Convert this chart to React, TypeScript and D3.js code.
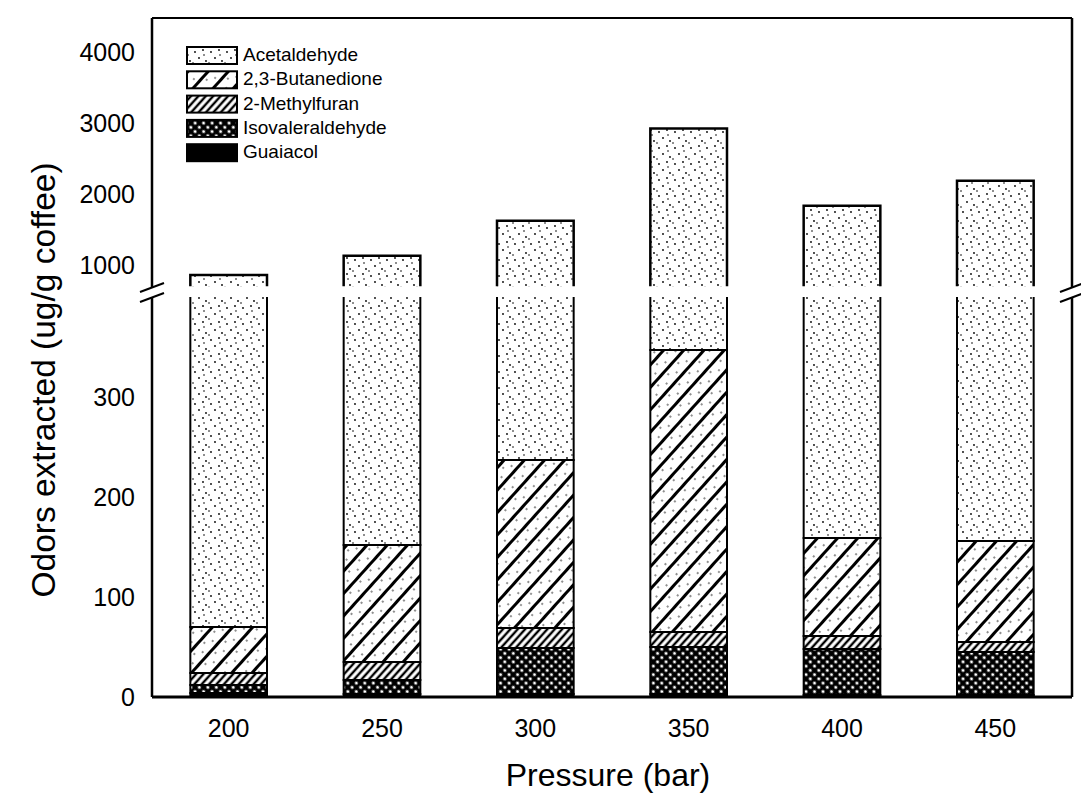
import React from "react";
import * as d3 from "d3";

const categories = ["200", "250", "300", "350", "400", "450"];
const guaiacol = [4, 3, 3, 3, 2, 2];
const isovaleraldehyde = [8, 14, 46, 47, 46, 43];
const methylfuran = [12, 18, 20, 15, 13, 10];
const butanedione = [46, 117, 168, 282, 98, 101];
const acetaldehyde = [790, 978, 1385, 2577, 1675, 2032];
const lowerTicks = [0, 100, 200, 300];
const upperTicks = [1000, 2000, 3000, 4000];
const legendNames = ["Acetaldehyde", "2,3-Butanedione", "2-Methylfuran", "Isovaleraldehyde", "Guaiacol"];

const W = 1081;
const H = 800;
const left = 152;
const right = 1072;
const top = 18;
const bottom = 697;
const lowerMax = 400;
const upperMin = 700;

const FONT = "'Liberation Sans', Arial, Helvetica, sans-serif";

export default function App() {
  const keys = ["guaiacol", "isovaleraldehyde", "methylfuran", "butanedione", "acetaldehyde"];
  const rows = categories.map((c, i) => ({
    cat: c,
    guaiacol: guaiacol[i],
    isovaleraldehyde: isovaleraldehyde[i],
    methylfuran: methylfuran[i],
    butanedione: butanedione[i],
    acetaldehyde: acetaldehyde[i],
  }));
  const stack = d3.stack<any>().keys(keys);
  const series = stack(rows);

  const x = d3.scaleBand<string>().domain(categories).range([left, right]).paddingInner(0.5).paddingOuter(0.25);
  const yLow = d3.scaleLinear().domain([0, lowerMax]).range([bottom, 297]);
  const yUp = d3.scaleLinear().domain([1000, 4000]).range([265, 52]);

  const fills: Record<string, string> = {
    acetaldehyde: "url(#pAcet)",
    butanedione: "url(#pBut)",
    methylfuran: "url(#pMeth)",
    isovaleraldehyde: "url(#pIso)",
    guaiacol: "#000",
  };

  const segs: any[] = [];
  series.forEach((s) => {
    s.forEach((d: any, i: number) => {
      const b = d[0];
      const t = d[1];
      const xx = x(categories[i])!;
      const bw = x.bandwidth();
      if (t <= lowerMax) {
        segs.push({ key: s.key + i, x: xx, w: bw, y: yLow(t), h: yLow(b) - yLow(t), fill: fills[s.key], open: null });
      } else {
        segs.push({ key: s.key + i + "a", x: xx, w: bw, y: yLow(lowerMax), h: yLow(b) - yLow(lowerMax), fill: fills[s.key], open: "top" });
        segs.push({ key: s.key + i + "b", x: xx, w: bw, y: yUp(t), h: yUp(upperMin) - yUp(t), fill: fills[s.key], open: "bottom" });
      }
    });
  });

  const breakY1 = 287;
  const breakY2 = 297;

  return (
    <svg width={W} height={H} style={{ position: "absolute", left: 0, top: 0, background: "#fff" }} fontFamily={FONT}>
      <defs>
        <pattern id="pAcet" width="16" height="16" patternUnits="userSpaceOnUse">
          <rect width="16" height="16" fill="#fff" />
          <circle cx="3" cy="4" r="0.9" fill="#000" />
          <circle cx="11" cy="2" r="0.9" fill="#000" />
          <circle cx="7" cy="10" r="0.9" fill="#000" />
          <circle cx="14" cy="13" r="0.9" fill="#000" />
          <circle cx="1" cy="15" r="0.8" fill="#000" />
          <circle cx="12" cy="7" r="0.8" fill="#000" />
        </pattern>
        <pattern id="pBut" width="15" height="15" patternUnits="userSpaceOnUse" patternTransform="rotate(42)">
          <rect width="15" height="15" fill="#fff" />
          <line x1="7.5" y1="0" x2="7.5" y2="15" stroke="#000" strokeWidth="3" />
          <circle cx="2" cy="4" r="0.8" fill="#000" />
          <circle cx="12" cy="11" r="0.8" fill="#000" />
        </pattern>
        <pattern id="pMeth" width="5.5" height="5.5" patternUnits="userSpaceOnUse" patternTransform="rotate(42)">
          <rect width="5.5" height="5.5" fill="#fff" />
          <line x1="2.75" y1="0" x2="2.75" y2="5.5" stroke="#000" strokeWidth="2.4" />
        </pattern>
        <pattern id="pIso" width="6" height="6" patternUnits="userSpaceOnUse" patternTransform="rotate(45)">
          <rect width="6" height="6" fill="#000" />
          <circle cx="3" cy="3" r="1.6" fill="#fff" />
        </pattern>
      </defs>

      {segs.map((s) => (
        <g key={s.key}>
          <rect x={s.x} y={s.y} width={s.w} height={Math.max(0, s.h)} fill={s.fill} />
          {s.open === null && (
            <rect x={s.x} y={s.y} width={s.w} height={Math.max(0, s.h)} fill="none" stroke="#000" strokeWidth={2} />
          )}
          {s.open === "top" && (
            <path d={`M${s.x},${s.y} V${s.y + s.h} H${s.x + s.w} V${s.y}`} fill="none" stroke="#000" strokeWidth={2} />
          )}
          {s.open === "bottom" && (
            <path d={`M${s.x},${s.y + s.h} V${s.y} H${s.x + s.w} V${s.y + s.h}`} fill="none" stroke="#000" strokeWidth={2.5} />
          )}
        </g>
      ))}

      {/* frame */}
      <line x1={left} x2={right} y1={top} y2={top} stroke="#000" strokeWidth={2} />
      <line x1={left} x2={right} y1={bottom} y2={bottom} stroke="#000" strokeWidth={3} />
      <line x1={left} x2={left} y1={top} y2={breakY1} stroke="#000" strokeWidth={2.5} />
      <line x1={left} x2={left} y1={breakY2} y2={bottom} stroke="#000" strokeWidth={2.5} />
      <line x1={right} x2={right} y1={top} y2={breakY1} stroke="#000" strokeWidth={2.5} />
      <line x1={right} x2={right} y1={breakY2} y2={bottom} stroke="#000" strokeWidth={2.5} />
      {[left, right].map((bx) => (
        <g key={"br" + bx}>
          <line x1={bx - 12} y1={breakY1 + 5} x2={bx + 12} y2={breakY1 - 4} stroke="#000" strokeWidth={2} />
          <line x1={bx - 12} y1={breakY2 + 5} x2={bx + 12} y2={breakY2 - 4} stroke="#000" strokeWidth={2} />
        </g>
      ))}

      {/* y tick labels */}
      {lowerTicks.map((t) => (
        <text key={"l" + t} x={135} y={yLow(t) + 9} textAnchor="end" fontSize={25} fill="#000">
          {t}
        </text>
      ))}
      {upperTicks.map((t) => (
        <text key={"u" + t} x={135} y={yUp(t) + 9} textAnchor="end" fontSize={25} fill="#000">
          {t}
        </text>
      ))}

      {/* x tick labels */}
      {categories.map((c) => (
        <text key={"x" + c} x={x(c)! + x.bandwidth() / 2} y={737} textAnchor="middle" fontSize={25} fill="#000">
          {c}
        </text>
      ))}

      {/* axis titles */}
      <text x={608} y={786} textAnchor="middle" fontSize={32} fill="#000">
        Pressure (bar)
      </text>
      <text transform={`translate(55,380) rotate(-90)`} textAnchor="middle" fontSize={33.5} fill="#000">
        Odors extracted (ug/g coffee)
      </text>

      {/* legend */}
      {legendNames.map((n, i) => {
        const key = keys[keys.length - 1 - i];
        const ly = 47 + i * 24.3;
        return (
          <g key={"lg" + n}>
            <rect x={187} y={ly} width={50} height={17} fill={fills[key]} stroke="#000" strokeWidth={2} />
            <text x={243} y={ly + 14} fontSize={19} fill="#000">
              {n}
            </text>
          </g>
        );
      })}
    </svg>
  );
}
